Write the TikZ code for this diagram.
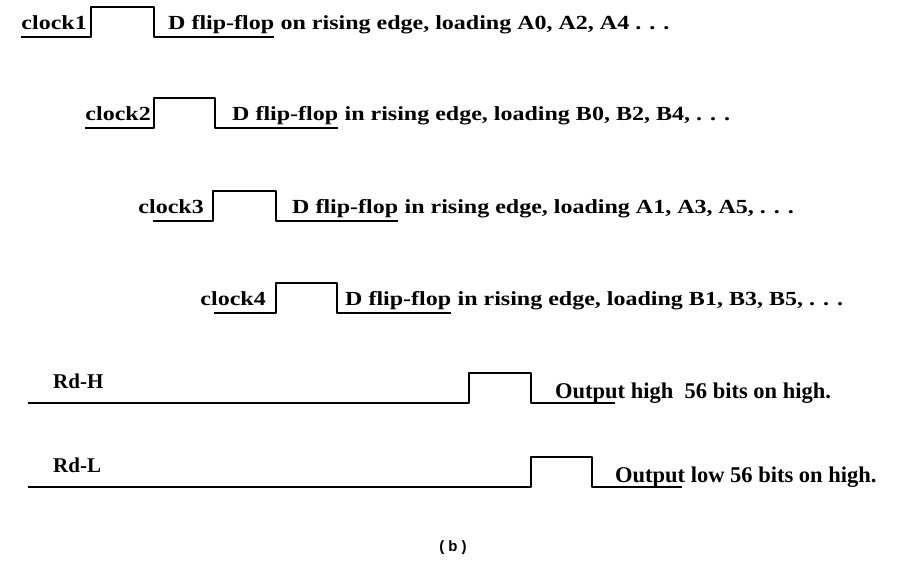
\documentclass[tikz,border=0pt]{standalone}
\usepackage{fontspec}
\setmainfont{Liberation Serif}
\setsansfont{Liberation Sans}
\newfontfamily\widefont[FakeStretch=1.2]{Liberation Serif}

\begin{document}
\begin{tikzpicture}[x=1pt,y=-1pt,
    wave/.style={line width=1.5pt,line join=round},
    clk/.style={inner sep=0pt,font=\widefont\bfseries\fontsize{20}{22}\selectfont},
    rd/.style={inner sep=0pt,font=\bfseries\fontsize{21}{24}\selectfont},
    outtxt/.style={inner sep=0pt,anchor=base west,font=\bfseries\fontsize{22.5}{25}\selectfont}]
    \useasboundingbox (0,0) rectangle (905,568);

    % four clocks
    \node[clk,anchor=base east](c1)at(87,29){clock1};
    \node[clk,anchor=base west](d1)at(168,29){D flip-flop};
    \node[clk,anchor=base west](t1)at([xshift=6pt]d1.base east){on rising edge, loading A0, A2, A4 . . .};
    \draw[wave](c1.base west |- 0,37)--(91,37)--(91,7)--(154,7)--(154,37)--(d1.base east |- 0,37);

    \node[clk,anchor=base east](c2)at(151,120){clock2};
    \node[clk,anchor=base west](d2)at(232,120){D flip-flop};
    \node[clk,anchor=base west](t2)at([xshift=6pt]d2.base east){in rising edge, loading B0, B2, B4, . . .};
    \draw[wave](c2.base west |- 0,128)--(154,128)--(154,98)--(215,98)--(215,128)--(d2.base east |- 0,128);

    \node[clk,anchor=base east](c3)at(204,213){clock3};
    \node[clk,anchor=base west](d3)at(292,213){D flip-flop};
    \node[clk,anchor=base west](t3)at([xshift=6pt]d3.base east){in rising edge, loading A1, A3, A5, . . .};
    \draw[wave](153,221)--(213,221)--(213,191)--(276,191)--(276,221)--(d3.base east |- 0,221);

    \node[clk,anchor=base east](c4)at(266,305){clock4};
    \node[clk,anchor=base west](d4)at(345,305){D flip-flop};
    \node[clk,anchor=base west](t4)at([xshift=6pt]d4.base east){in rising edge, loading B1, B3, B5, . . .};
    \draw[wave](214,313)--(276,313)--(276,283)--(337,283)--(337,313)--(d4.base east |- 0,313);

    % read signals
    \node[rd,anchor=base west](rh)at(53,388){Rd-H};
    \node[outtxt](oh)at(555,398){Output high\ \ 56 bits on high.};
    \draw[wave](28,403)--(469,403)--(469,373)--(531,373)--(531,403)--(615,403);

    \node[rd,anchor=base west](rl)at(53,472){Rd-L};
    \node[outtxt](ol)at(615,482){Output low 56 bits on high.};
    \draw[wave](28,487)--(531,487)--(531,457)--(592,457)--(592,487)--(682,487);

    \node[inner sep=0pt,font=\sffamily\bfseries\fontsize{15}{17}\selectfont](cap)at(453,548){( b )};
\end{tikzpicture}
\end{document}
